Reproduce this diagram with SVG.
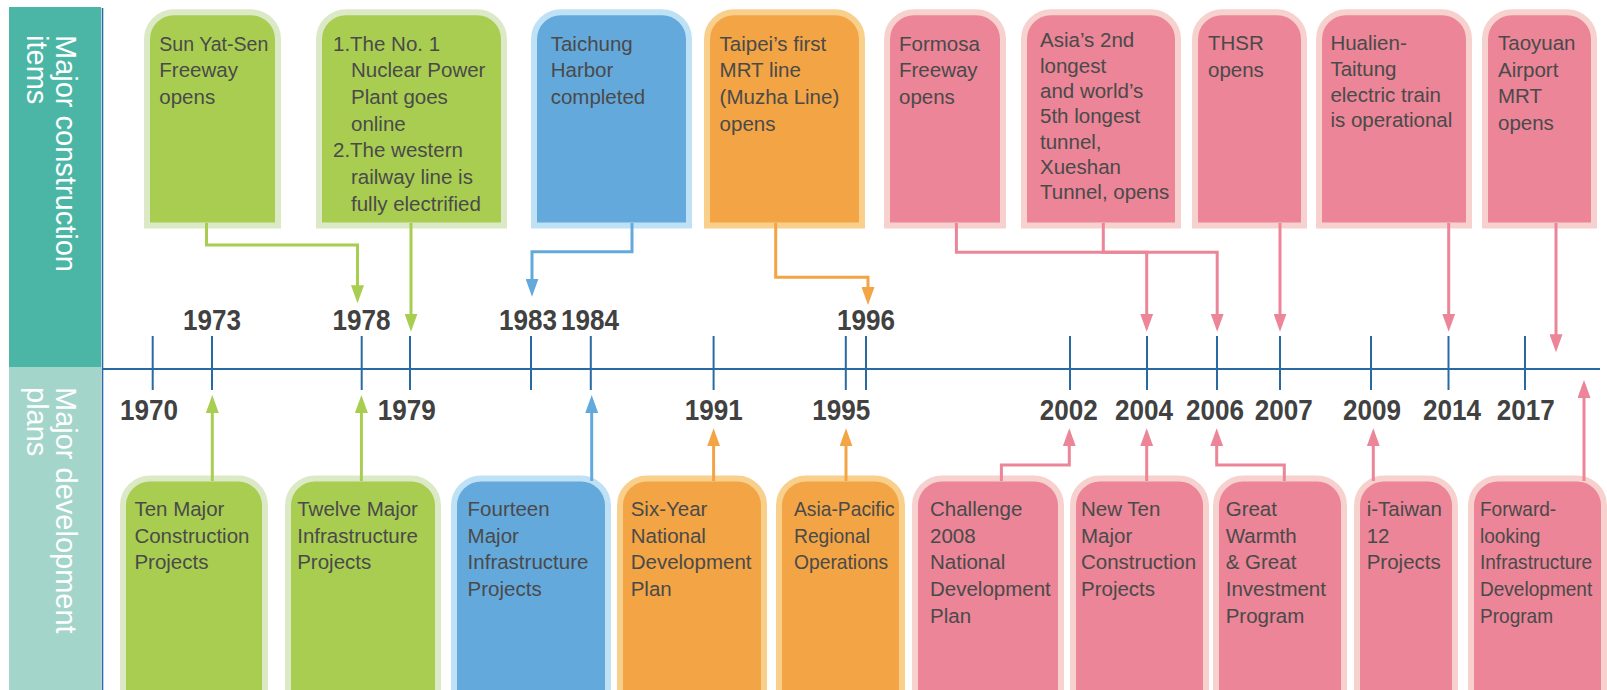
<svg xmlns="http://www.w3.org/2000/svg" width="1607" height="690" viewBox="0 0 1607 690">
<style>
.t{font-family:"Liberation Sans",Arial,sans-serif;font-size:20.5px;fill:#4a4a4a}
.yr{font-family:"Liberation Sans",Arial,sans-serif;font-size:30px;font-weight:bold;fill:#414141;text-anchor:middle}
.pl{font-family:"Liberation Sans",Arial,sans-serif;font-size:29px;fill:#ffffff}
.g{fill:#a9cd51;stroke:#dbe9c6;stroke-width:6}
.b{fill:#64a9dc;stroke:#bfe1f6;stroke-width:6}
.o{fill:#f3a444;stroke:#f9cf8c;stroke-width:6}
.p{fill:#eb8597;stroke:#f7d1cd;stroke-width:6}
.c{fill:none;stroke-width:3}
.tick{stroke:#2a6aa3;stroke-width:2}
</style>
<defs>
<marker id="mg" markerUnits="userSpaceOnUse" markerWidth="18" markerHeight="13" refX="4" refY="6.5" orient="auto"><path d="M0,0 L18,6.5 L0,13 Z" fill="#a9cd51"/></marker>
<marker id="mb" markerUnits="userSpaceOnUse" markerWidth="18" markerHeight="13" refX="4" refY="6.5" orient="auto"><path d="M0,0 L18,6.5 L0,13 Z" fill="#64a9dc"/></marker>
<marker id="mo" markerUnits="userSpaceOnUse" markerWidth="18" markerHeight="13" refX="4" refY="6.5" orient="auto"><path d="M0,0 L18,6.5 L0,13 Z" fill="#f3a444"/></marker>
<marker id="mp" markerUnits="userSpaceOnUse" markerWidth="18" markerHeight="13" refX="4" refY="6.5" orient="auto"><path d="M0,0 L18,6.5 L0,13 Z" fill="#eb8597"/></marker>
</defs>

<g id="side-panel">
<rect x="9" y="7" width="92" height="360" fill="#4cb6a6"/>
<rect x="9" y="367" width="92" height="330" fill="#a4d5ca"/>
<text class="pl" transform="translate(56,35) rotate(90)"><tspan x="0" y="0">Major construction</tspan><tspan x="0" y="29">items</tspan></text>
<text class="pl" transform="translate(56,387) rotate(90)"><tspan x="0" y="0">Major development</tspan><tspan x="0" y="29">plans</tspan></text>
</g>

<g id="axis">
<line x1="102.5" y1="8" x2="102.5" y2="690" stroke="#2a6aa3" stroke-width="1.6"/>
<line x1="102" y1="369" x2="1600" y2="369" stroke="#2a6aa3" stroke-width="2"/>
<g class="tick">
<line x1="152.7" y1="336" x2="152.7" y2="390"/>
<line x1="212" y1="336" x2="212" y2="390"/>
<line x1="361.7" y1="336" x2="361.7" y2="390"/>
<line x1="410" y1="336" x2="410" y2="390"/>
<line x1="531" y1="336" x2="531" y2="390"/>
<line x1="590.8" y1="336" x2="590.8" y2="390"/>
<line x1="713.6" y1="336" x2="713.6" y2="390"/>
<line x1="845.8" y1="336" x2="845.8" y2="390"/>
<line x1="866" y1="336" x2="866" y2="390"/>
<line x1="1070" y1="336" x2="1070" y2="390"/>
<line x1="1147" y1="336" x2="1147" y2="390"/>
<line x1="1217" y1="336" x2="1217" y2="390"/>
<line x1="1280" y1="336" x2="1280" y2="390"/>
<line x1="1371" y1="336" x2="1371" y2="390"/>
<line x1="1448.5" y1="336" x2="1448.5" y2="390"/>
<line x1="1525" y1="336" x2="1525" y2="390"/>
</g>
<text class="yr" x="212" y="330" textLength="58" lengthAdjust="spacingAndGlyphs">1973</text>
<text class="yr" x="361.5" y="330" textLength="58" lengthAdjust="spacingAndGlyphs">1978</text>
<text class="yr" x="528" y="330" textLength="58" lengthAdjust="spacingAndGlyphs">1983</text>
<text class="yr" x="590" y="330" textLength="58" lengthAdjust="spacingAndGlyphs">1984</text>
<text class="yr" x="866" y="330" textLength="58" lengthAdjust="spacingAndGlyphs">1996</text>
<text class="yr" x="149" y="419.5" textLength="58" lengthAdjust="spacingAndGlyphs">1970</text>
<text class="yr" x="406.7" y="419.5" textLength="58" lengthAdjust="spacingAndGlyphs">1979</text>
<text class="yr" x="713.7" y="419.5" textLength="58" lengthAdjust="spacingAndGlyphs">1991</text>
<text class="yr" x="841.3" y="419.5" textLength="58" lengthAdjust="spacingAndGlyphs">1995</text>
<text class="yr" x="1068.8" y="419.5" textLength="58" lengthAdjust="spacingAndGlyphs">2002</text>
<text class="yr" x="1144" y="419.5" textLength="58" lengthAdjust="spacingAndGlyphs">2004</text>
<text class="yr" x="1215" y="419.5" textLength="58" lengthAdjust="spacingAndGlyphs">2006</text>
<text class="yr" x="1283.7" y="419.5" textLength="58" lengthAdjust="spacingAndGlyphs">2007</text>
<text class="yr" x="1372" y="419.5" textLength="58" lengthAdjust="spacingAndGlyphs">2009</text>
<text class="yr" x="1452" y="419.5" textLength="58" lengthAdjust="spacingAndGlyphs">2014</text>
<text class="yr" x="1525.7" y="419.5" textLength="58" lengthAdjust="spacingAndGlyphs">2017</text>
</g>

<g id="n-sunyatsen">
<path class="g" d="M147,225.5 V39.3 A27,27 0 0 1 174,12.3 H251 A27,27 0 0 1 278,39.3 V225.5 Z"/>
<text class="t"><tspan x="159.3" y="50.7" textLength="109" lengthAdjust="spacingAndGlyphs">Sun Yat-Sen</tspan><tspan x="159.3" y="77.3">Freeway</tspan><tspan x="159.3" y="104">opens</tspan></text>
</g>
<g id="n-nuclear">
<path class="g" d="M319,225.5 V39.3 A27,27 0 0 1 346,12.3 H477 A27,27 0 0 1 504,39.3 V225.5 Z"/>
<text class="t"><tspan x="333" y="50.5">1.The No. 1</tspan><tspan x="351" y="77.2">Nuclear Power</tspan><tspan x="351" y="103.9">Plant goes</tspan><tspan x="351" y="130.6">online</tspan><tspan x="333" y="157.3">2.The western</tspan><tspan x="351" y="184">railway line is</tspan><tspan x="351" y="210.7">fully electrified</tspan></text>
</g>
<g id="n-taichung">
<path class="b" d="M534,225.5 V39.3 A27,27 0 0 1 561,12.3 H662 A27,27 0 0 1 689,39.3 V225.5 Z"/>
<text class="t"><tspan x="550.7" y="50.7">Taichung</tspan><tspan x="550.7" y="77.3">Harbor</tspan><tspan x="550.7" y="104">completed</tspan></text>
</g>
<g id="n-taipeimrt">
<path class="o" d="M707,225.5 V39.3 A27,27 0 0 1 734,12.3 H835 A27,27 0 0 1 862,39.3 V225.5 Z"/>
<text class="t"><tspan x="719.6" y="50.7">Taipei’s first</tspan><tspan x="719.6" y="77.3">MRT line</tspan><tspan x="719.6" y="104">(Muzha Line)</tspan><tspan x="719.6" y="130.7">opens</tspan></text>
</g>
<g id="n-formosa">
<path class="p" d="M887,225.5 V39.3 A27,27 0 0 1 914,12.3 H976 A27,27 0 0 1 1003,39.3 V225.5 Z"/>
<text class="t"><tspan x="899" y="50.7">Formosa</tspan><tspan x="899" y="77.3">Freeway</tspan><tspan x="899" y="104">opens</tspan></text>
</g>
<g id="n-xueshan">
<path class="p" d="M1024,225.5 V39.3 A27,27 0 0 1 1051,12.3 H1151 A27,27 0 0 1 1178,39.3 V225.5 Z"/>
<text class="t"><tspan x="1040" y="47.3">Asia’s 2nd</tspan><tspan x="1040" y="72.6">longest</tspan><tspan x="1040" y="97.9">and world’s</tspan><tspan x="1040" y="123.2">5th longest</tspan><tspan x="1040" y="148.5">tunnel,</tspan><tspan x="1040" y="173.8">Xueshan</tspan><tspan x="1040" y="199.1">Tunnel, opens</tspan></text>
</g>
<g id="n-thsr">
<path class="p" d="M1195,225.5 V39.3 A27,27 0 0 1 1222,12.3 H1277 A27,27 0 0 1 1304,39.3 V225.5 Z"/>
<text class="t"><tspan x="1208" y="50.3">THSR</tspan><tspan x="1208" y="76.8">opens</tspan></text>
</g>
<g id="n-hualien">
<path class="p" d="M1319,225.5 V39.3 A27,27 0 0 1 1346,12.3 H1442 A27,27 0 0 1 1469,39.3 V225.5 Z"/>
<text class="t"><tspan x="1330.4" y="50.3">Hualien-</tspan><tspan x="1330.4" y="76.3">Taitung</tspan><tspan x="1330.4" y="101.8">electric train</tspan><tspan x="1330.4" y="127">is operational</tspan></text>
</g>
<g id="n-taoyuan">
<path class="p" d="M1485,225.5 V39.3 A27,27 0 0 1 1512,12.3 H1567 A27,27 0 0 1 1594,39.3 V225.5 Z"/>
<text class="t"><tspan x="1498" y="50.3">Taoyuan</tspan><tspan x="1498" y="76.8">Airport</tspan><tspan x="1498" y="103.3">MRT</tspan><tspan x="1498" y="129.5">opens</tspan></text>
</g>

<g id="n-tenmajor">
<path class="g" d="M123,700 V505.5 A27,27 0 0 1 150,478.5 H238 A27,27 0 0 1 265,505.5 V700 Z"/>
<text class="t"><tspan x="134.4" y="516">Ten Major</tspan><tspan x="134.4" y="542.7">Construction</tspan><tspan x="134.4" y="569.4">Projects</tspan></text>
</g>
<g id="n-twelvemajor">
<path class="g" d="M288,700 V505.5 A27,27 0 0 1 315,478.5 H411 A27,27 0 0 1 438,505.5 V700 Z"/>
<text class="t"><tspan x="297.2" y="516">Twelve Major</tspan><tspan x="297.2" y="542.7">Infrastructure</tspan><tspan x="297.2" y="569.4">Projects</tspan></text>
</g>
<g id="n-fourteen">
<path class="b" d="M454,700 V505.5 A27,27 0 0 1 481,478.5 H581 A27,27 0 0 1 608,505.5 V700 Z"/>
<text class="t"><tspan x="467.6" y="516">Fourteen</tspan><tspan x="467.6" y="542.7">Major</tspan><tspan x="467.6" y="569.4">Infrastructure</tspan><tspan x="467.6" y="596.1">Projects</tspan></text>
</g>
<g id="n-sixyear">
<path class="o" d="M620,700 V505.5 A27,27 0 0 1 647,478.5 H737 A27,27 0 0 1 764,505.5 V700 Z"/>
<text class="t"><tspan x="630.7" y="516">Six-Year</tspan><tspan x="630.7" y="542.7">National</tspan><tspan x="630.7" y="569.4">Development</tspan><tspan x="630.7" y="596.1">Plan</tspan></text>
</g>
<g id="n-asiapacific">
<path class="o" d="M779,700 V505.5 A27,27 0 0 1 806,478.5 H875 A27,27 0 0 1 902,505.5 V700 Z"/>
<text class="t" transform="translate(794,0) scale(0.94,1) translate(-794,0)"><tspan x="794" y="516">Asia-Pacific</tspan><tspan x="794" y="542.7">Regional</tspan><tspan x="794" y="569.4">Operations</tspan></text>
</g>
<g id="n-challenge">
<path class="p" d="M915,700 V505.5 A27,27 0 0 1 942,478.5 H1034 A27,27 0 0 1 1061,505.5 V700 Z"/>
<text class="t"><tspan x="930" y="516">Challenge</tspan><tspan x="930" y="542.7">2008</tspan><tspan x="930" y="569.4">National</tspan><tspan x="930" y="596.1">Development</tspan><tspan x="930" y="622.8">Plan</tspan></text>
</g>
<g id="n-newten">
<path class="p" d="M1073,700 V505.5 A27,27 0 0 1 1100,478.5 H1179 A27,27 0 0 1 1206,505.5 V700 Z"/>
<text class="t"><tspan x="1081" y="516">New Ten</tspan><tspan x="1081" y="542.7">Major</tspan><tspan x="1081" y="569.4">Construction</tspan><tspan x="1081" y="596.1">Projects</tspan></text>
</g>
<g id="n-greatwarmth">
<path class="p" d="M1216,700 V505.5 A27,27 0 0 1 1243,478.5 H1317 A27,27 0 0 1 1344,505.5 V700 Z"/>
<text class="t"><tspan x="1225.7" y="516">Great</tspan><tspan x="1225.7" y="542.7">Warmth</tspan><tspan x="1225.7" y="569.4">&amp; Great</tspan><tspan x="1225.7" y="596.1">Investment</tspan><tspan x="1225.7" y="622.8">Program</tspan></text>
</g>
<g id="n-itaiwan">
<path class="p" d="M1357,700 V505.5 A27,27 0 0 1 1384,478.5 H1428 A27,27 0 0 1 1455,505.5 V700 Z"/>
<text class="t"><tspan x="1366.7" y="516">i-Taiwan</tspan><tspan x="1366.7" y="542.7">12</tspan><tspan x="1366.7" y="569.4">Projects</tspan></text>
</g>
<g id="n-forward">
<path class="p" d="M1471,700 V505.5 A27,27 0 0 1 1498,478.5 H1577 A27,27 0 0 1 1604,505.5 V700 Z"/>
<text class="t" transform="translate(1480,0) scale(0.93,1) translate(-1480,0)"><tspan x="1480" y="516">Forward-</tspan><tspan x="1480" y="542.7">looking</tspan><tspan x="1480" y="569.4">Infrastructure</tspan><tspan x="1480" y="596.1">Development</tspan><tspan x="1480" y="622.8">Program</tspan></text>
</g>

<g id="connectors">
<path class="c" stroke="#a9cd51" marker-end="url(#mg)" d="M206.5,223 V245 H357.5 V289.3"/>
<path class="c" stroke="#a9cd51" marker-end="url(#mg)" d="M411,223 V317.7"/>
<path class="c" stroke="#64a9dc" marker-end="url(#mb)" d="M632,223 V251.7 H532 V282.7"/>
<path class="c" stroke="#f3a444" marker-end="url(#mo)" d="M775.7,223 V277.3 H868 V291"/>
<path class="c" stroke="#eb8597" marker-end="url(#mp)" d="M956.4,223 V252.3 H1146.7 V317.7"/>
<path class="c" stroke="#eb8597" marker-end="url(#mp)" d="M1103.3,223 V252.3 H1217.2 V317.7"/>
<path class="c" stroke="#eb8597" marker-end="url(#mp)" d="M1280,223 V317.7"/>
<path class="c" stroke="#eb8597" marker-end="url(#mp)" d="M1448.7,223 V317.7"/>
<path class="c" stroke="#eb8597" marker-end="url(#mp)" d="M1556,223 V338.3"/>
<path class="c" stroke="#a9cd51" marker-end="url(#mg)" d="M212.3,481 V409"/>
<path class="c" stroke="#a9cd51" marker-end="url(#mg)" d="M361.4,481 V409"/>
<path class="c" stroke="#64a9dc" marker-end="url(#mb)" d="M591.7,481 V409"/>
<path class="c" stroke="#f3a444" marker-end="url(#mo)" d="M713.6,481 V442.3"/>
<path class="c" stroke="#f3a444" marker-end="url(#mo)" d="M846,481 V442.3"/>
<path class="c" stroke="#eb8597" marker-end="url(#mp)" d="M1001.4,481 V465 H1069.3 V442.3"/>
<path class="c" stroke="#eb8597" marker-end="url(#mp)" d="M1146.7,481 V442.3"/>
<path class="c" stroke="#eb8597" marker-end="url(#mp)" d="M1284.3,481 V465 H1216.7 V442.3"/>
<path class="c" stroke="#eb8597" marker-end="url(#mp)" d="M1373.3,481 V442.3"/>
<path class="c" stroke="#eb8597" marker-end="url(#mp)" d="M1584,481 V394"/>
</g>
</svg>
